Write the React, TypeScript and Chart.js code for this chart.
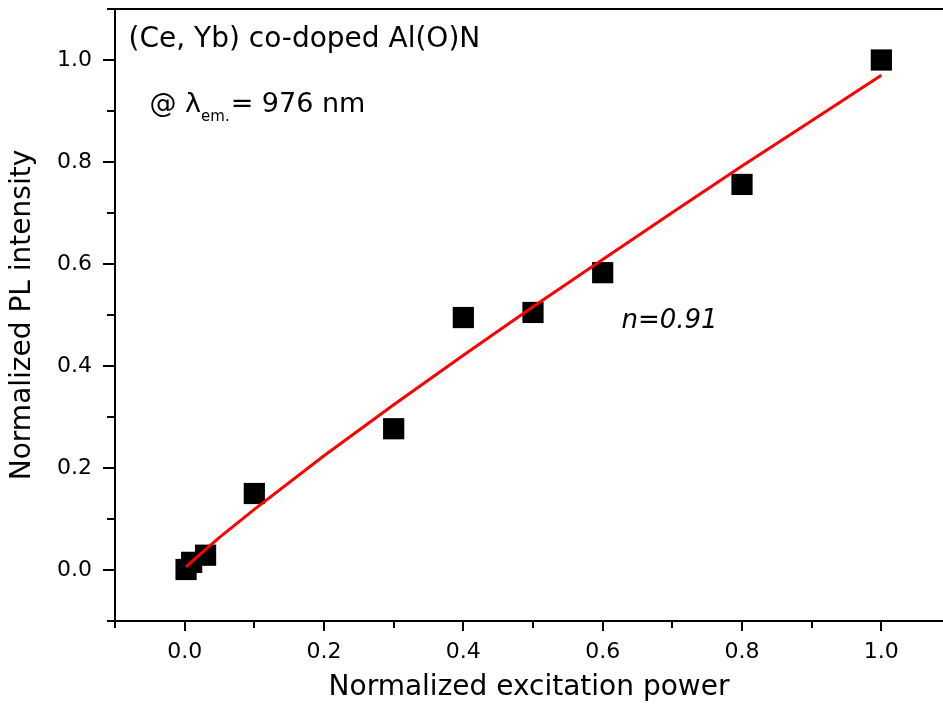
import React, { useEffect, useRef } from 'react';
import { Chart, registerables } from 'chart.js';

Chart.register(...registerables);

// ---- data ----
const excitationPower = [0.002, 0.01, 0.03, 0.1, 0.3, 0.4, 0.5, 0.6, 0.8, 1.0];
const plIntensity = [0.001, 0.015, 0.029, 0.15, 0.277, 0.495, 0.505, 0.583, 0.756, 1.0];

// power-law fit line (n = 0.91)
const fitPower = [0.002, 0.02, 0.05, 0.1, 0.2, 0.3, 0.4, 0.5, 0.6, 0.7, 0.8, 0.9, 1.0];
const fitIntensity = [0.006, 0.028, 0.064, 0.119, 0.224, 0.324, 0.421, 0.516, 0.609, 0.701, 0.792, 0.881, 0.97];

const xTickValues = [-0.1, 0, 0.1, 0.2, 0.3, 0.4, 0.5, 0.6, 0.7, 0.8, 0.9, 1.0];
const yTickValues = [-0.1, 0, 0.1, 0.2, 0.3, 0.4, 0.5, 0.6, 0.7, 0.8, 0.9, 1.0, 1.1];

const xAxisTitle = 'Normalized excitation power';
const yAxisTitle = 'Normalized PL intensity';
const sampleLabel = '(Ce, Yb) co-doped Al(O)N';
const excitationPrefix = '@ λ';
const excitationSub = 'em.';
const excitationSuffix = '= 976 nm';
const exponentLabel = 'n=0.91';

const FONT = '"DejaVu Sans", "Liberation Sans", Arial, sans-serif';

const isMajor = (v: number) => Math.abs(Math.round(v * 10)) % 2 === 0;

const zeroPadding = (scale: any) => {
  scale.paddingTop = 0;
  scale.paddingBottom = 0;
  scale.paddingLeft = 0;
  scale.paddingRight = 0;
};

const decorPlugin = {
  id: 'decor',
  afterDraw(chart: any) {
    const { ctx, chartArea, scales } = chart;
    const xs = scales.x;
    const ys = scales.y;
    ctx.save();
    ctx.strokeStyle = '#000';
    ctx.lineWidth = 2;
    ctx.beginPath();
    ctx.moveTo(chartArea.left - 1, chartArea.top);
    ctx.lineTo(chartArea.right, chartArea.top);
    xTickValues.forEach((v) => {
      const px = Math.round(xs.getPixelForValue(v));
      const len = isMajor(v) ? 10 : 7;
      ctx.moveTo(px, chartArea.bottom);
      ctx.lineTo(px, chartArea.bottom + len);
    });
    yTickValues.forEach((v) => {
      const py = Math.round(ys.getPixelForValue(v));
      const len = isMajor(v) ? 12 : 8;
      ctx.moveTo(chartArea.left, py);
      ctx.lineTo(chartArea.left - len, py);
    });
    ctx.stroke();

    ctx.fillStyle = '#000';
    ctx.textBaseline = 'alphabetic';
    ctx.textAlign = 'left';

    // sample label
    ctx.font = `28px ${FONT}`;
    ctx.fillText(sampleLabel, xs.getPixelForValue(-0.0805), ys.getPixelForValue(1.0255));

    // excitation wavelength label
    let x = xs.getPixelForValue(-0.0505);
    const base = ys.getPixelForValue(0.8978);
    ctx.font = `27px ${FONT}`;
    ctx.fillText(excitationPrefix, x, base);
    x += ctx.measureText(excitationPrefix).width;
    ctx.font = `15px ${FONT}`;
    ctx.fillText(excitationSub, x, base + 9);
    x += ctx.measureText(excitationSub).width + 1;
    ctx.font = `27px ${FONT}`;
    ctx.fillText(excitationSuffix, x, base);

    // exponent label
    ctx.font = `italic 26px ${FONT}`;
    ctx.fillText(exponentLabel, xs.getPixelForValue(0.627), ys.getPixelForValue(0.4754));
    ctx.restore();
  },
};

export default function App() {
  const canvasRef = useRef<HTMLCanvasElement | null>(null);

  useEffect(() => {
    const canvas = canvasRef.current;
    if (!canvas) return;
    const chart = new Chart(canvas, {
      type: 'scatter',
      data: {
        datasets: [
          {
            label: 'fit',
            data: fitPower.map((p, i) => ({ x: p, y: fitIntensity[i] })),
            showLine: true,
            borderColor: '#ff0000',
            borderWidth: 3,
            pointRadius: 0,
            fill: false,
            order: 0,
          },
          {
            label: 'PL',
            data: excitationPower.map((p, i) => ({ x: p, y: plIntensity[i] })),
            pointStyle: 'rect',
            pointRadius: 15,
            pointHoverRadius: 15,
            pointBackgroundColor: '#000',
            pointBorderWidth: 0,
            backgroundColor: '#000',
            order: 1,
          },
        ],
      },
      options: {
        responsive: false,
        maintainAspectRatio: false,
        animation: false,
        devicePixelRatio: 1,
        layout: { autoPadding: false, padding: { top: 9, right: 0, left: 0, bottom: 0 } },
        plugins: {
          legend: { display: false },
          tooltip: { enabled: false },
        },
        scales: {
          x: {
            type: 'linear',
            min: -0.1,
            max: 1.0885,
            afterBuildTicks: (scale: any) => {
              scale.ticks = xTickValues.map((v) => ({ value: v }));
            },
            afterFit: (scale: any) => {
              scale.height = 86;
              zeroPadding(scale);
            },
            grid: { display: false, drawTicks: false },
            border: { display: true, color: '#000', width: 2 },
            ticks: {
              autoSkip: false,
              maxRotation: 0,
              padding: 18,
              color: '#000',
              font: { family: FONT, size: 22 },
              callback: (value: any) => (isMajor(Number(value)) ? Number(value).toFixed(1) : ''),
            },
            title: {
              display: true,
              text: xAxisTitle,
              color: '#000',
              font: { family: FONT, size: 28, lineHeight: 1.2 },
              padding: { top: 0, bottom: 2 },
            },
          },
          y: {
            type: 'linear',
            min: -0.1,
            max: 1.1,
            afterBuildTicks: (scale: any) => {
              scale.ticks = yTickValues.map((v) => ({ value: v }));
            },
            afterFit: (scale: any) => {
              scale.width = 115;
              zeroPadding(scale);
            },
            grid: { display: false, drawTicks: false },
            border: { display: true, color: '#000', width: 2 },
            ticks: {
              autoSkip: false,
              padding: 23,
              color: '#000',
              font: { family: FONT, size: 22 },
              callback: (value: any) => (isMajor(Number(value)) ? Number(value).toFixed(1) : ''),
            },
            title: {
              display: true,
              text: yAxisTitle,
              color: '#000',
              font: { family: FONT, size: 28, lineHeight: 1.2 },
              padding: { top: 6, bottom: 0 },
            },
          },
        },
      },
      plugins: [decorPlugin],
    });
    return () => chart.destroy();
  }, []);

  return (
    <div style={{ position: 'fixed', left: 0, top: 0, width: 943, height: 707, background: '#fff' }}>
      <canvas ref={canvasRef} width={943} height={707} style={{ display: 'block' }} />
    </div>
  );
}
